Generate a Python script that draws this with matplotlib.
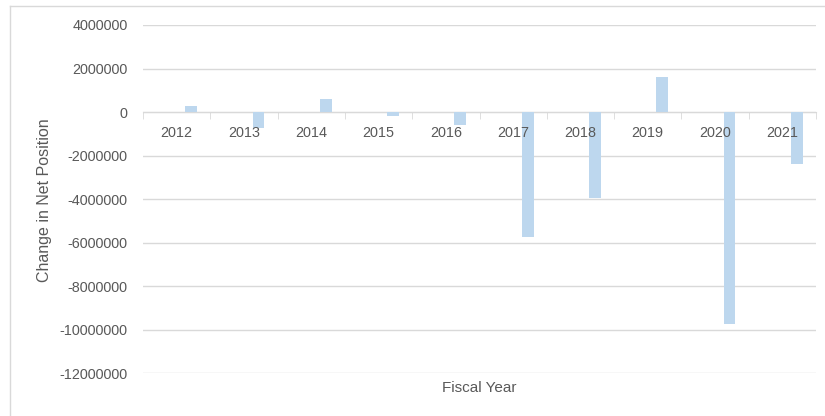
import matplotlib
matplotlib.use('Agg')
import matplotlib.pyplot as plt
from matplotlib.lines import Line2D
import numpy as np

# - data - #
years = ['2012', '2013', '2014', '2015', '2016', '2017', '2018', '2019', '2020', '2021']
change = [280000, -710000, 580000, -180000, -600000, -5720000, -3950000, 1590000, -9720000, -2380000]
yticks = [4000000, 2000000, 0, -2000000, -4000000, -6000000, -8000000, -10000000, -12000000]

grey = '#d9d9d9'
txt = '#595959'
plt.rcParams['font.family'] = ['Liberation Sans', 'DejaVu Sans']

W, H = 825, 416
fig = plt.figure(figsize=(W / 100, H / 100), dpi=100)
ax = fig.add_axes([143 / W, 1 - 373.3 / H, (816 - 143) / W, (373.3 - 25) / H])

x = np.arange(len(years))
ax.bar(x + 0.5 + 0.215, change, width=0.175, color='#bdd7ee', zorder=3)

ax.set_xlim(0, len(years))
ax.set_ylim(-12000000, 4000000)
ax.set_yticks(yticks)
ax.set_yticklabels([str(v) for v in yticks])
ax.yaxis.grid(True, color=grey, lw=1, zorder=0)

# category axis sits on the zero line
ax.spines['bottom'].set_position(('data', 0))
ax.spines['bottom'].set_color(grey)
for s in ['top', 'right', 'left']:
    ax.spines[s].set_visible(False)
ax.set_xticks(x + 0.5)
ax.set_xticklabels([])
ax.set_xticks(np.arange(len(years) + 1), minor=True)
ax.tick_params(axis='x', which='major', length=0)
ax.tick_params(axis='x', which='minor', length=5, color=grey, direction='out')
ax.tick_params(axis='y', length=0, pad=11, labelsize=10.4, labelcolor=txt)

# category labels drawn on top of the bars
for i, yr in enumerate(years):
    ax.annotate(yr, xy=(i + 0.5, 0), xytext=(0, -14.9), textcoords='offset points',
                ha='center', va='center', fontsize=10.4, color=txt, zorder=5,
                annotation_clip=False)

fig.text(479.5 / W, 1 - 387.7 / H, 'Fiscal Year', ha='center', va='center', fontsize=11, color=txt)
fig.text(45 / W, 1 - 200 / H, 'Change in Net Position', ha='center', va='center',
         rotation=90, fontsize=11.5, color=txt)

# outer chart border (left and top edges show)
fig.add_artist(Line2D([10 / W, 10 / W], [0, 1 - 5.5 / H], color=grey, lw=1))
fig.add_artist(Line2D([10 / W, 1], [1 - 5.5 / H, 1 - 5.5 / H], color=grey, lw=1))

fig.savefig('out.png', dpi=100)
